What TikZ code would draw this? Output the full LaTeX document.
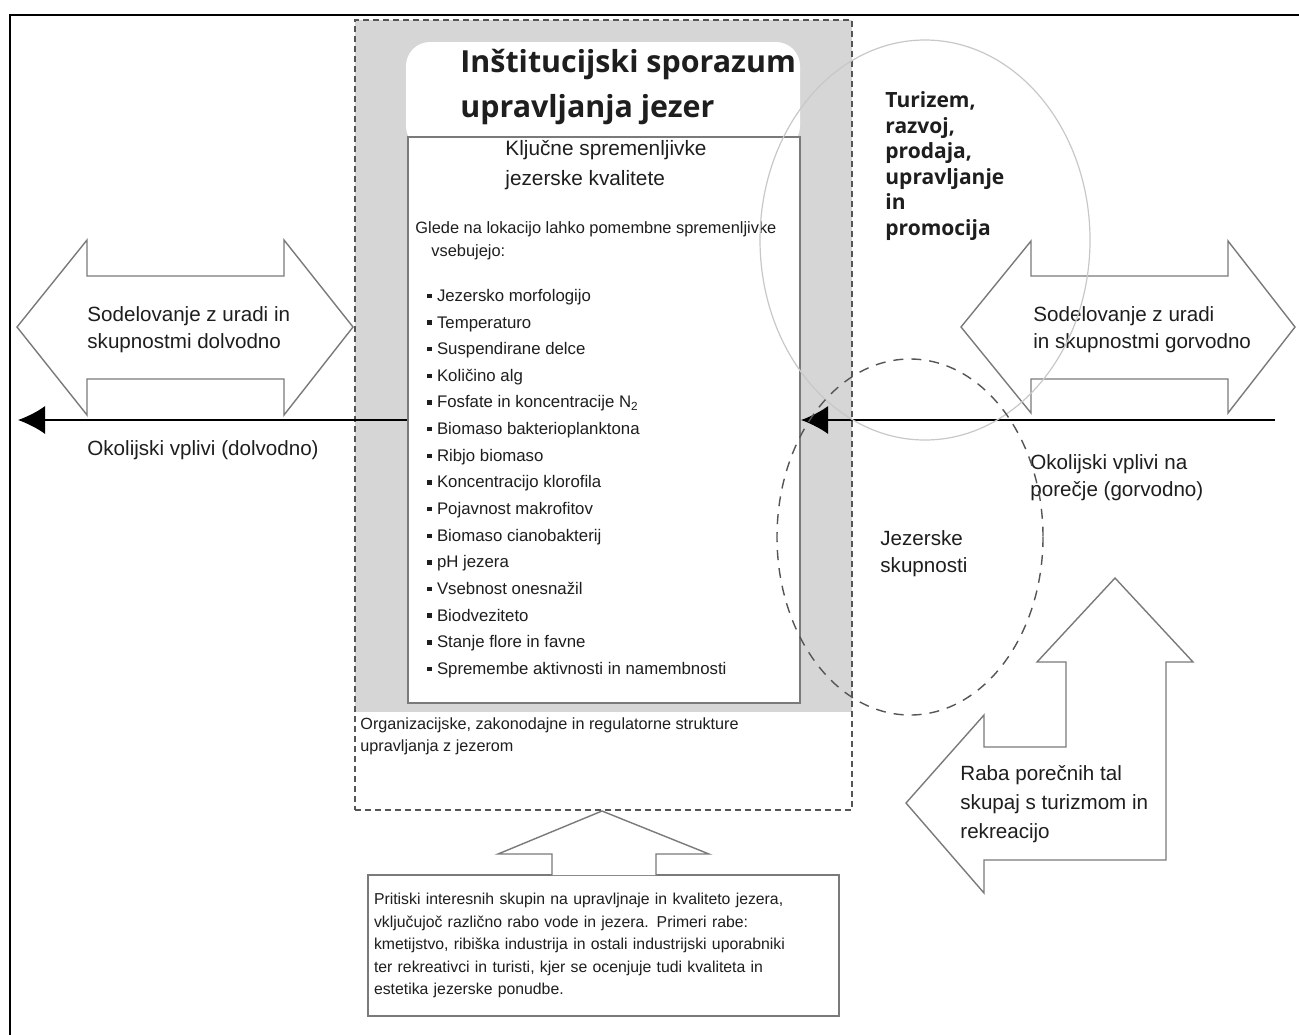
\documentclass[tikz,border=0pt]{standalone}
\usepackage{fontspec}
\setmainfont{Liberation Sans}
\newfontfamily\headfont{Open Sans}
\usetikzlibrary{arrows.meta}
\definecolor{lakeInk}{HTML}{1E1E1E}
\definecolor{lakePanel}{HTML}{D6D6D6}
\definecolor{lakeEdge}{HTML}{7A7A7A}
\definecolor{lakeDash}{HTML}{555555}
\definecolor{lakeRing}{HTML}{C8C8C8}
\newcommand{\sqitem}{\rule[1.6pt]{2.2pt}{2.2pt}\hspace{2.6pt}}
\tikzset{
  plaintext/.style={
    anchor=west,
    inner sep=0pt,
    align=left,
    text=lakeInk,
    font=\fontsize{10.3}{13.5}\selectfont
  },
  smalltext/.style={
    plaintext,
    font=\fontsize{8.2}{11.5}\selectfont
  },
  headtext/.style={
    anchor=west,
    inner sep=0pt,
    align=left,
    text=lakeInk,
    font=\headfont\bfseries\fontsize{15.2}{22.5}\selectfont
  },
  sidehead/.style={
    headtext,
    font=\headfont\bfseries\fontsize{10.5}{12.8}\selectfont
  },
  blockarrow/.style={
    draw=lakeEdge,
    fill=white,
    line width=0.7pt,
    line join=miter
  },
  flowarrow/.style={
    -{Latex[length=13.5pt,width=14pt]},
    line width=0.8pt,
    draw=black
  },
  ring/.style={
    draw=lakeRing,
    line width=0.6pt
  },
  dashring/.style={
    draw=lakeDash,
    line width=0.7pt,
    dash pattern=on 5pt off 4pt
  }
}

\begin{document}
\begin{tikzpicture}[x=0.5pt,y=-0.5pt]
  \useasboundingbox (0,0) rectangle (1299,1034);
  \fill[white] (0,0) rectangle (1299,1034);
  % outer frame, cut by the page
  \draw[line width=1.1pt] (10,15) rectangle (1320,1060);

  % institutional panel
  \fill[lakePanel] (355,20) rectangle (852,712);
  \fill[white,rounded corners=12pt] (406,42) rectangle (800,150);
  \node[headtext] (title) at (460,87.5) {Inštitucijski sporazum\\upravljanja jezer};
  \node[draw=lakeEdge,line width=1pt,fill=white,minimum width=196pt,minimum height=283pt,inner sep=0pt] (keybox) at (604,420) {};
  \node[plaintext,font=\fontsize{10.4}{15}\selectfont] (keyhead) at (505,165) {Ključne spremenljivke\\jezerske kvalitete};
  \node[smalltext] (keyintro) at (415,240.5) {Glede na lokacijo lahko pomembne spremenljivke\\\hspace*{8pt}vsebujejo:};
  \node[smalltext,font=\fontsize{8.4}{13.32}\selectfont] (keylist) at (427,483.5) {%
    \sqitem Jezersko morfologijo\\
    \sqitem Temperaturo\\
    \sqitem Suspendirane delce\\
    \sqitem Količino alg\\
    \sqitem Fosfate in koncentracije N\textsubscript{2}\\
    \sqitem Biomaso bakterioplanktona\\
    \sqitem Ribjo biomaso\\
    \sqitem Koncentracijo klorofila\\
    \sqitem Pojavnost makrofitov\\
    \sqitem Biomaso cianobakterij\\
    \sqitem pH jezera\\
    \sqitem Vsebnost onesnažil\\
    \sqitem Biodveziteto\\
    \sqitem Stanje flore in favne\\
    \sqitem Spremembe aktivnosti in namembnosti};
  \node[smalltext,font=\fontsize{8.1}{11}\selectfont] (structures) at (360,736) {Organizacijske, zakonodajne in regulatorne strukture\\upravljanja z jezerom};
  \node[draw=lakeDash,line width=0.7pt,dash pattern=on 3pt off 2pt,minimum width=248.5pt,minimum height=395pt,inner sep=0pt] (institution) at (603.5,415) {};

  % side block arrows
  \draw[blockarrow] (17,327) -- (87,240) -- (87,276) -- (284,276) -- (284,240) -- (353,327)
    -- (284,415) -- (284,379) -- (87,379) -- (87,415) -- cycle;
  \node[plaintext] (downcoop) at (87,329.5) {Sodelovanje z uradi in\\skupnostmi dolvodno};
  \draw[blockarrow] (961,327) -- (1031,241) -- (1031,276) -- (1228,276) -- (1228,241) -- (1295,327)
    -- (1228,413) -- (1228,379) -- (1031,379) -- (1031,413) -- cycle;
  \node[plaintext] (upcoop) at (1033,329.5) {Sodelovanje z uradi\\in skupnostmi gorvodno};

  % environmental flow
  \coordinate (leftEnd) at (18,420);
  \coordinate (rightEnd) at (1275,420);
  \draw[flowarrow] (keybox.west) -- (leftEnd);
  \draw[flowarrow] (rightEnd) -- (keybox.east);
  \node[plaintext] (downimpact) at (87,450) {Okolijski vplivi (dolvodno)};
  \node[plaintext] (upimpact) at (1030,477.5) {Okolijski vplivi na\\porečje (gorvodno)};

  % land use arrow
  \draw[blockarrow] (1115,578) -- (1193,662) -- (1166,662) -- (1166,860) -- (984,860) -- (984,893)
    -- (906,803) -- (984,715) -- (984,747) -- (1066,747) -- (1066,662) -- (1037,662) -- cycle;
  \node[plaintext,font=\fontsize{10.3}{14.5}\selectfont] (landuse) at (960,804) {Raba porečnih tal\\skupaj s turizmom in\\rekreacijo};

  % stakeholder pressure
  \node[draw=lakeEdge,line width=0.7pt,fill=white,minimum width=235.5pt,minimum height=70.5pt,
    text width=229.5pt,inner xsep=3pt,align=left,text=lakeInk,font=\fontsize{7.9}{11.25}\selectfont] (pressure) at (603.5,945.5)
    {Pritiski interesnih skupin na upravljnaje in kvaliteto jezera,\\
     vključujoč različno rabo vode in jezera. Primeri rabe:\\
     kmetijstvo, ribiška industrija in ostali industrijski uporabniki\\
     ter rekreativci in turisti, kjer se ocenjuje tudi kvaliteta in\\
     estetika jezerske ponudbe.};
  \draw[blockarrow] (552,875) -- (552,854) -- (498,854) -- (602,811) -- (709,854) -- (656,854) -- (656,875);

  % spheres of interest
  \draw[ring] (925,240) ellipse [x radius=165, y radius=200];
  \node[sidehead] (tourism) at (885,166) {Turizem,\\razvoj,\\prodaja,\\upravljanje\\in\\promocija};
  \draw[dashring] (910,537) ellipse [x radius=133, y radius=178];
  \node[plaintext] (community) at (880,554) {Jezerske\\skupnosti};
\end{tikzpicture}
\end{document}
